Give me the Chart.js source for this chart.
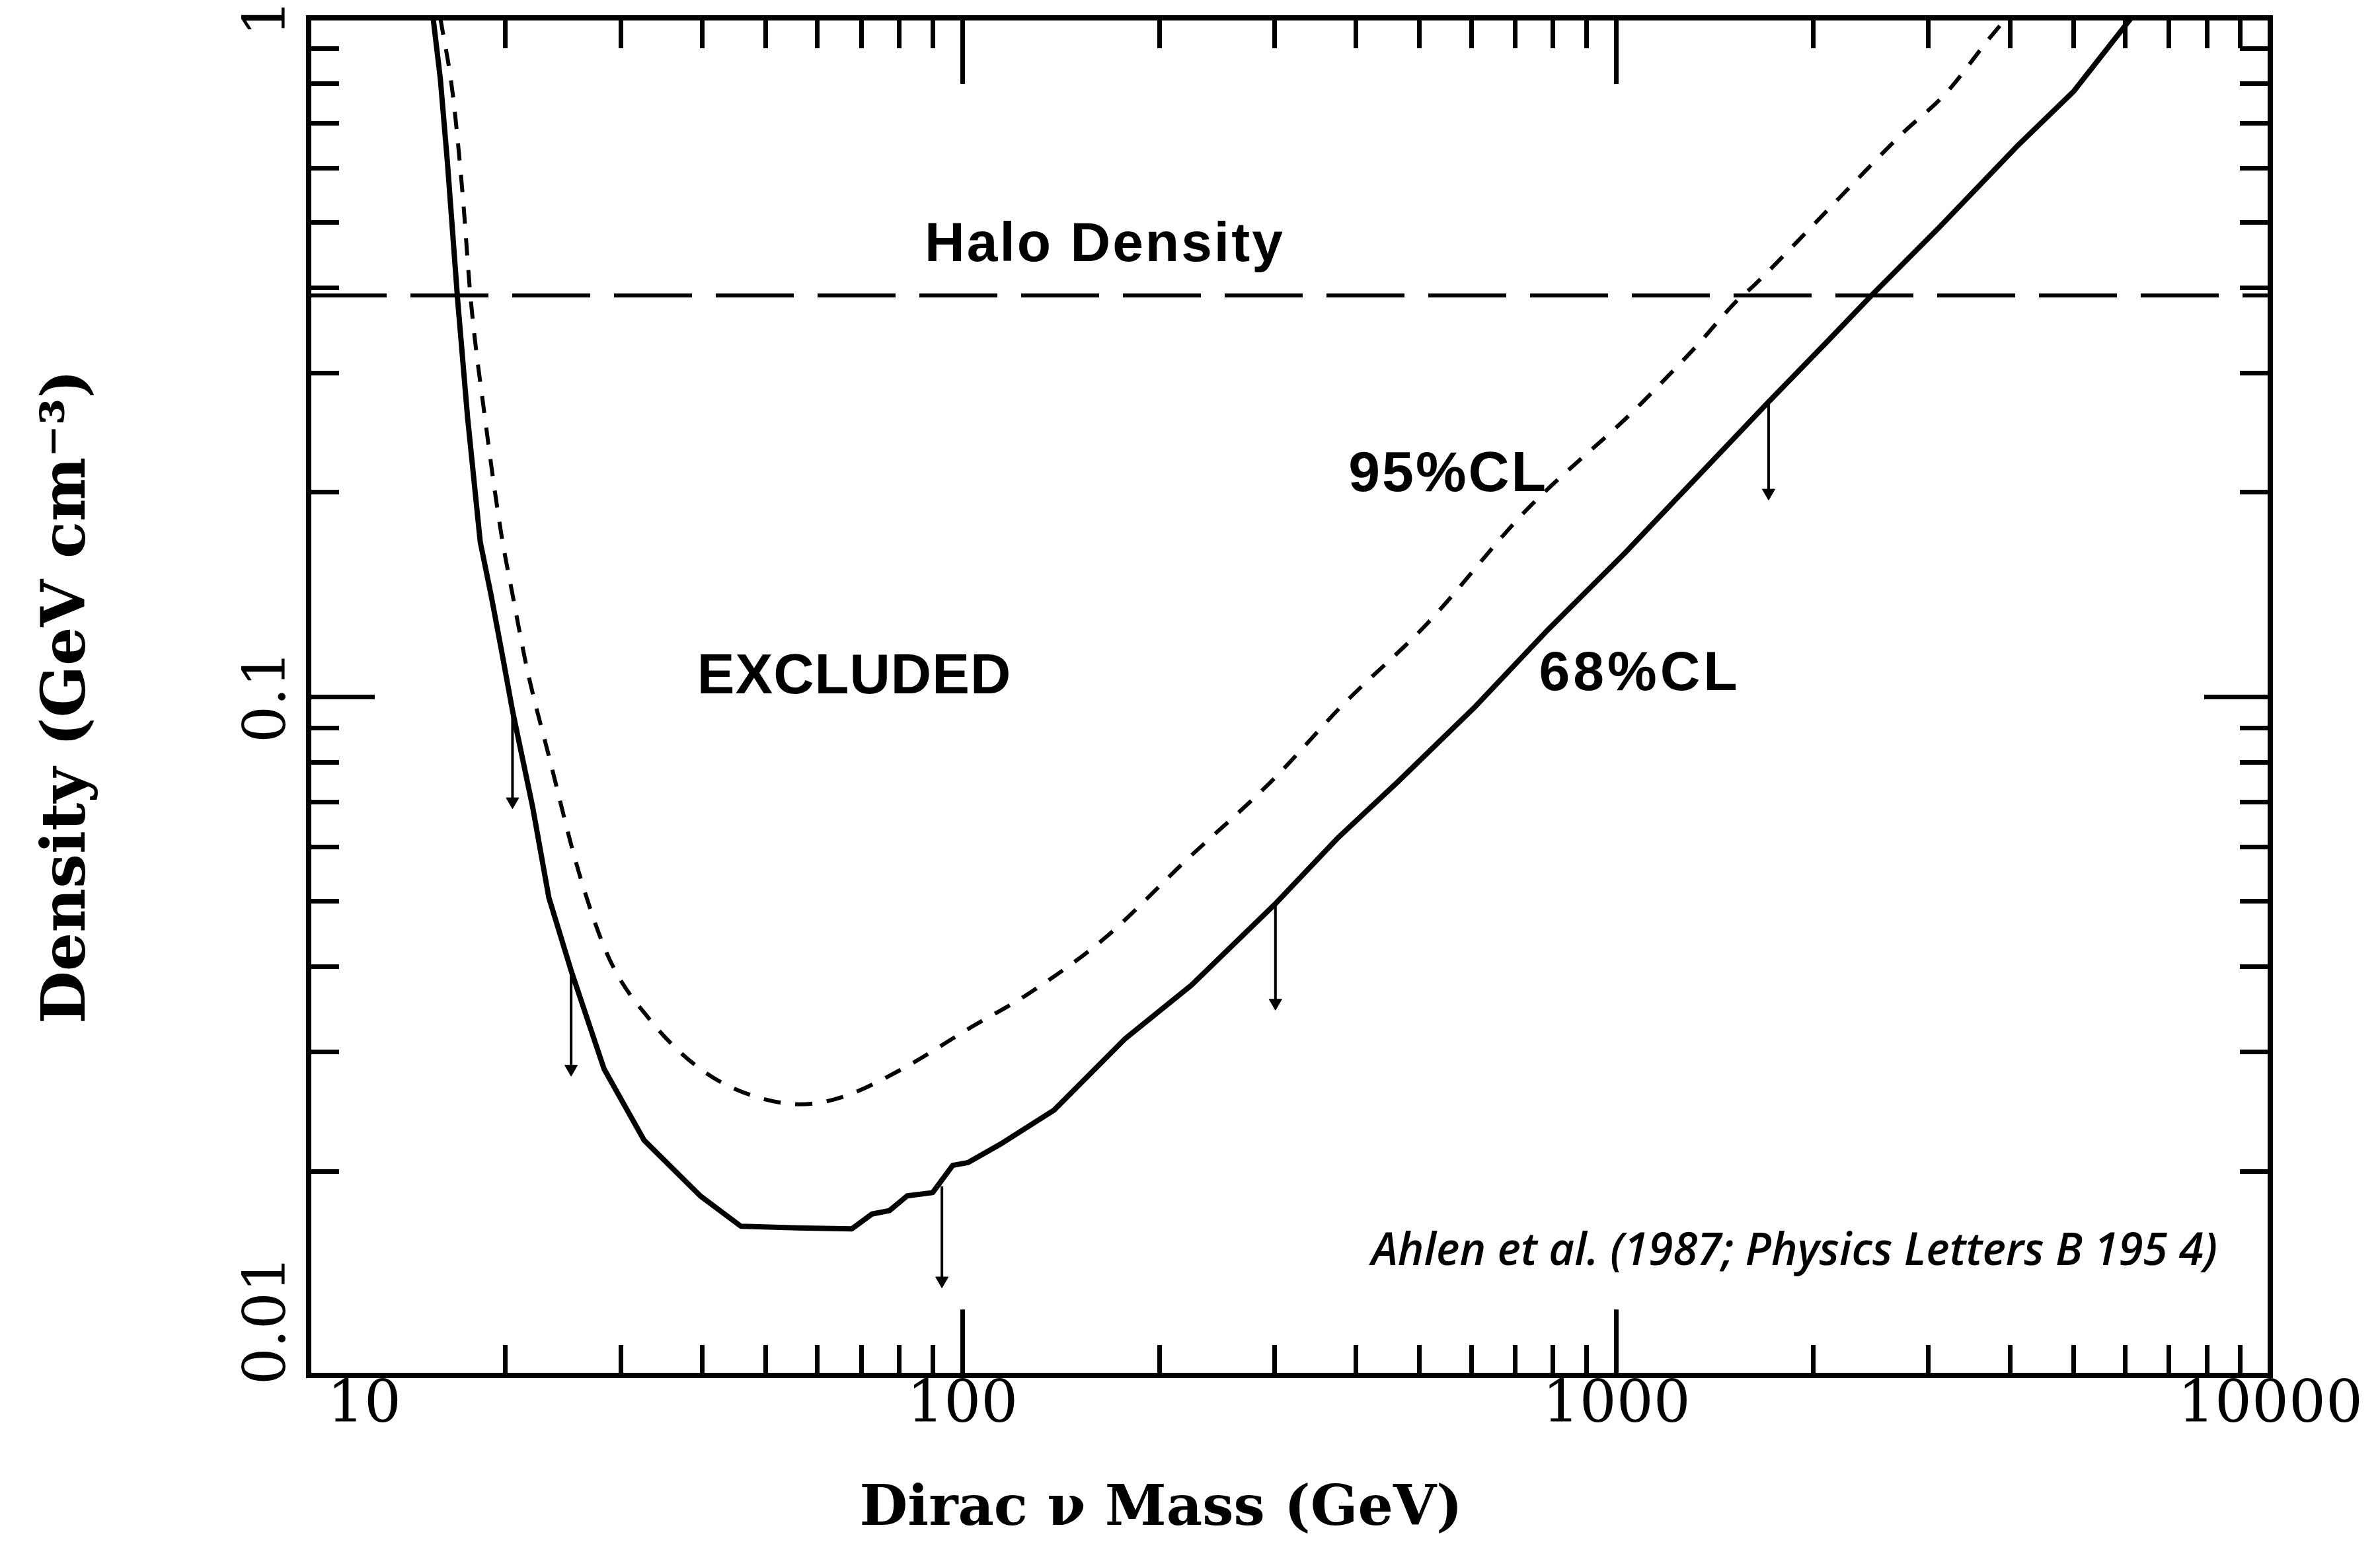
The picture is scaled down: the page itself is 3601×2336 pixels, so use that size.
<!DOCTYPE html>
<html>
<head>
<meta charset="utf-8">
<title>Dirac neutrino mass vs. halo density limit</title>
<script src="https://cdn.jsdelivr.net/npm/chart.js@4.4.1/dist/chart.umd.min.js"></script>
<style>
  html, body { margin: 0; padding: 0; background: #fff; }
  #wrap { width: 3601px; height: 2336px; }
</style>
</head>
<body>
<div id="wrap"><canvas id="chart" width="3601" height="2336"></canvas></div>
<script>
// values (mass in GeV, density in GeV cm^-3)
var mass68 = [15.5, 15.9, 16.3, 16.9, 17.5, 18.3, 19.0, 19.7, 20.5, 22.0,
              23.3, 25.2, 28.3, 32.6, 39.7, 45.8, 56, 67.7, 72.7, 77.3,
              82.3, 90.0, 96.6, 102, 115, 138, 177, 224, 300, 376,
              463, 605, 787, 1029, 1709, 2104, 2455, 3115, 4093, 5008, 6130];
var dens68 = [1.0, 0.813, 0.613, 0.384, 0.258, 0.169, 0.1415, 0.1176, 0.0954, 0.0689,
              0.0506, 0.0395, 0.0283, 0.0222, 0.0184, 0.0166, 0.0165, 0.01645, 0.0173, 0.0175,
              0.0184, 0.0186, 0.0204, 0.0206, 0.0220, 0.0246, 0.0313, 0.0376, 0.0494, 0.0621,
              0.0749, 0.0962, 0.1257, 0.1626, 0.2718, 0.334, 0.39, 0.491, 0.646, 0.78, 1.0];

var mass95 = [15.9, 16.6, 17.2, 17.7, 18.6, 19.7, 20.5, 21.6, 23.3, 25.9,
              28.8, 33.2, 39.7, 47.4, 56.6, 65.3, 80.9, 102, 126, 165,
              218, 299, 380, 513, 727, 1056, 1135, 1324, 1528, 1621,
              1983, 2314, 2734, 3190, 3723, 3950];
var dens95 = [1.0, 0.776, 0.549, 0.384, 0.258, 0.174, 0.1415, 0.1094, 0.0818, 0.0551,
              0.0412, 0.0335, 0.0283, 0.0259, 0.0251, 0.0257, 0.0283, 0.0324, 0.0365, 0.0441,
              0.057, 0.0756, 0.0969, 0.128, 0.188, 0.262, 0.281, 0.328, 0.383, 0.403,
              0.491, 0.573, 0.675, 0.774, 0.934, 1.0];

var haloMass = [10, 10000];
var haloDens = [0.39, 0.39];

// little downward arrows hanging from the 68% curve
var arrowMass = [20.5, 25.2, 93, 301, 1709];
var arrowTop = [0.0954, 0.0395, 0.0190, 0.0496, 0.2718];
var arrowBottom = [0.0701, 0.0283, 0.0138, 0.0354, 0.1997];

var massTicks = [10, 20, 30, 40, 50, 60, 70, 80, 90,
                 100, 200, 300, 400, 500, 600, 700, 800, 900,
                 1000, 2000, 3000, 4000, 5000, 6000, 7000, 8000, 9000, 10000];
var massMajor = [10, 100, 1000, 10000];
var massMajorLabels = ['10', '100', '1000', '10000'];

var densTicks = [0.01, 0.02, 0.03, 0.04, 0.05, 0.06, 0.07, 0.08, 0.09,
                 0.1, 0.2, 0.3, 0.4, 0.5, 0.6, 0.7, 0.8, 0.9, 1];
var densMajor = [0.01, 0.1, 1];
var densMajorLabels = ['0.01', '0.1', '1'];

// ---- layout / style ----
var AXIS_LEFT = 467, AXIS_RIGHT = 166, AXIS_TOP = 27, X_AXIS_H = 154;
var TICK_MAJOR = 100, TICK_MINOR = 50, FRAME = 8;
var NUDGE = '\u00a0\u00a0\u00a0\u00a0\u00a0\u00a0'; // keeps corner labels apart like the original
var TITLE_SHIFT = '\u00a0\u00a0\u00a0';

var notes = [
  {text: 'Halo Density', mass: 165, dens: 0.462, font: 'bold 84px "Liberation Sans"', spacing: '3px', align: 'center'},
  {text: 'EXCLUDED', mass: 68.3, dens: 0.1067, font: 'bold 85px "Liberation Sans"', spacing: '1px', align: 'center'},
  {text: '95%CL', mass: 553, dens: 0.2118, font: 'bold 86px "Liberation Sans"', spacing: '3px', align: 'center'},
  {text: '68%CL', mass: 1086, dens: 0.1077, font: 'bold 84px "Liberation Sans"', spacing: '5px', align: 'center'},
  {text: 'Ahlen et al. (1987; Physics Letters B 195 4)', mass: 8300, dens: 0.0152,
   font: 'italic 600 68px "Open Sans"', spacing: '0px', align: 'right', maxWidth: 1280}
];

Chart.defaults.color = '#000';
Chart.defaults.font.family = 'DejaVu Serif';

function toPoints(xs, ys) {
  return xs.map(function (x, i) { return {x: x, y: ys[i]}; });
}

var arrowData = [];
arrowMass.forEach(function (m, i) {
  arrowData.push({x: m, y: arrowTop[i]}, {x: m, y: arrowBottom[i]}, {x: m, y: null});
});

function isDecade(v) {
  var l = Math.log10(v);
  return Math.abs(l - Math.round(l)) < 1e-6;
}

// ticks point inward; minor ones are cut short with a dash pattern
function tickDash(startsAtBorder) {
  return function (c) {
    if (isDecade(c.tick.value)) return [];
    return startsAtBorder ? [TICK_MINOR, 4000] : [0, TICK_MAJOR + FRAME / 2 - TICK_MINOR, 4000];
  };
}

function frameGrid(startsAtBorder) {
  return {
    display: true, drawOnChartArea: false, drawTicks: true,
    tickLength: -TICK_MAJOR, tickWidth: 7, tickColor: '#000',
    tickBorderDash: tickDash(startsAtBorder)
  };
}

var frameBorder = {display: true, width: FRAME, color: '#000'};

function setTicks(values) {
  return function (scale) {
    scale.ticks = values.map(function (v) { return {value: v}; });
  };
}

function fixSize(w, h) {
  return function (scale) {
    if (w !== null) scale.width = w;
    if (h !== null) scale.height = h;
    scale.paddingTop = 0; scale.paddingBottom = 0;
    scale.paddingLeft = 0; scale.paddingRight = 0;
  };
}

var notesPlugin = {
  id: 'notes',
  afterDatasetsDraw: function (chart) {
    var ctx = chart.ctx, xs = chart.scales.x, ys = chart.scales.y;
    notes.forEach(function (n) {
      ctx.save();
      ctx.font = n.font;
      ctx.fillStyle = '#000';
      ctx.textAlign = n.align;
      ctx.textBaseline = 'middle';
      if ('letterSpacing' in ctx) ctx.letterSpacing = n.spacing;
      var px = xs.getPixelForValue(n.mass), py = ys.getPixelForValue(n.dens);
      if (n.maxWidth) ctx.fillText(n.text, px, py, n.maxWidth);
      else ctx.fillText(n.text, px, py);
      ctx.restore();
    });
  }
};

new Chart(document.getElementById('chart'), {
  type: 'line',
  data: {
    datasets: [
      {
        label: '68% CL',
        data: toPoints(mass68, dens68),
        borderColor: '#000', borderWidth: 8, pointRadius: 0,
        borderJoinStyle: 'round', borderCapStyle: 'round', tension: 0
      },
      {
        label: '95% CL',
        data: toPoints(mass95, dens95),
        borderColor: '#000', borderWidth: 6, pointRadius: 0,
        borderDash: [26, 22], cubicInterpolationMode: 'monotone'
      },
      {
        label: 'Halo Density',
        data: toPoints(haloMass, haloDens),
        borderColor: '#000', borderWidth: 6, pointRadius: 0,
        borderDash: [118, 36]
      },
      {
        label: 'arrows',
        data: arrowData,
        borderColor: '#000', borderWidth: 4, spanGaps: false,
        pointStyle: 'triangle', pointRotation: 180,
        pointRadius: function (c) { return c.dataIndex % 3 === 1 ? 11 : 0; },
        pointBackgroundColor: '#000', pointBorderColor: '#000', pointBorderWidth: 1
      }
    ]
  },
  options: {
    responsive: false,
    animation: false,
    devicePixelRatio: 1,
    layout: {padding: 0, autoPadding: false},
    plugins: {
      legend: {display: false},
      tooltip: {enabled: false},
      title: {
        display: true, position: 'bottom', fullSize: true,
        text: 'Dirac \u03bd Mass (GeV)' + TITLE_SHIFT, color: '#000', padding: 0,
        font: {family: 'DejaVu Serif', size: 84, weight: 'bold', lineHeight: 1.2}
      }
    },
    scales: {
      x: {
        type: 'logarithmic', position: 'bottom', min: 10, max: 10000,
        afterBuildTicks: setTicks(massTicks),
        afterFit: fixSize(null, X_AXIS_H),
        border: frameBorder,
        grid: frameGrid(true),
        ticks: {
          autoSkip: false, minRotation: 0, maxRotation: 0, padding: 94,
          font: {family: 'DejaVu Serif', size: 88},
          callback: function (v) {
            var i = massMajor.indexOf(v);
            if (i < 0) return '';
            return (v === 10 ? NUDGE : '') + massMajorLabels[i];
          }
        }
      },
      xTop: {
        axis: 'x', type: 'logarithmic', position: 'top', min: 10, max: 10000,
        afterBuildTicks: setTicks(massTicks),
        afterFit: fixSize(null, AXIS_TOP),
        border: frameBorder,
        grid: frameGrid(false),
        ticks: {display: false, autoSkip: false}
      },
      y: {
        type: 'logarithmic', position: 'left', min: 0.01, max: 1,
        afterBuildTicks: setTicks(densTicks),
        afterFit: fixSize(AXIS_LEFT, null),
        border: frameBorder,
        grid: frameGrid(false),
        ticks: {
          autoSkip: false, minRotation: 90, maxRotation: 90, crossAlign: 'center', padding: -23,
          font: {family: 'DejaVu Serif', size: 88},
          callback: function (v) {
            var i = densMajor.indexOf(v);
            if (i < 0) return '';
            return (v === 0.01 ? NUDGE : '') + densMajorLabels[i];
          }
        },
        title: {
          display: true, text: 'Density (GeV cm\u207b\u00b3)', color: '#000',
          padding: {top: 49, bottom: 0},
          font: {family: 'DejaVu Serif', size: 92, weight: 'bold', lineHeight: 1.2}
        }
      },
      yRight: {
        axis: 'y', type: 'logarithmic', position: 'right', min: 0.01, max: 1,
        afterBuildTicks: setTicks(densTicks),
        afterFit: fixSize(AXIS_RIGHT, null),
        border: frameBorder,
        grid: frameGrid(true),
        ticks: {display: false, autoSkip: false}
      }
    }
  },
  plugins: [notesPlugin]
});
</script>
</body>
</html>
